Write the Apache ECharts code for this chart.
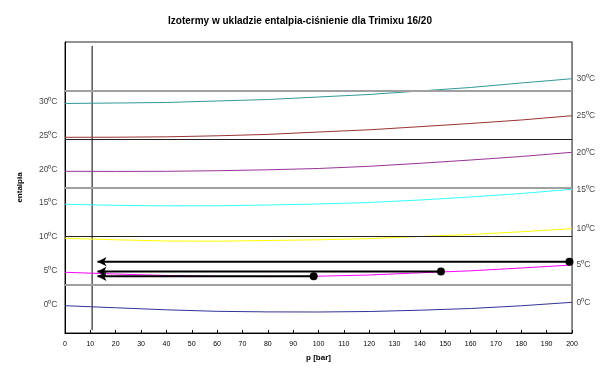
<!DOCTYPE html>
<html>
<head>
<meta charset="utf-8">
<script src="https://cdn.jsdelivr.net/npm/echarts@6/dist/echarts.min.js"></script>
<style>html,body{margin:0;padding:0;background:#fff}#c{width:600px;height:371px}</style>
</head>
<body>
<div id="c"></div>
<script>
// pressure points (bar)
const pressure = [0, 20, 40, 60, 80, 100, 120, 140, 160, 180, 200];
// isotherm enthalpy values (arbitrary enthalpy units, gridline = 1 unit)
const iso30 = [4.732, 4.742, 4.753, 4.784, 4.814, 4.866, 4.918, 4.990, 5.062, 5.155, 5.243];
const iso25 = [4.035, 4.037, 4.045, 4.066, 4.095, 4.144, 4.190, 4.254, 4.320, 4.392, 4.480];
const iso20 = [3.334, 3.332, 3.334, 3.346, 3.365, 3.392, 3.437, 3.499, 3.567, 3.639, 3.726];
const iso15 = [2.654, 2.633, 2.621, 2.623, 2.639, 2.660, 2.691, 2.742, 2.804, 2.876, 2.963];
const iso10 = [1.953, 1.922, 1.897, 1.893, 1.907, 1.922, 1.946, 1.990, 2.031, 2.087, 2.151];
const iso5  = [1.252, 1.216, 1.186, 1.169, 1.163, 1.171, 1.196, 1.241, 1.282, 1.340, 1.402];
const iso0  = [0.563, 0.520, 0.478, 0.447, 0.435, 0.433, 0.443, 0.470, 0.505, 0.561, 0.633];
const isoLabels = ['30⁰C', '25⁰C', '20⁰C', '15⁰C', '10⁰C', '5⁰C', '0⁰C'];
// filling processes: start pressure, enthalpy level, end pressure
const fillStartP = [199, 148.3, 98.1];
const fillLevel = [1.47, 1.268, 1.169];
const fillEndP = 12.8;
// vertical reference line (p, enthalpy from, enthalpy to)
const refP = 10.7;
const refRange = [0.06, 5.92];
// horizontal enthalpy levels
const levels = [1, 2, 3, 4, 5];
const xMin = 0, xMax = 200, xStep = 10;
const yMin = 0, yMax = 6;

const isoData = [iso30, iso25, iso20, iso15, iso10, iso5, iso0];
const isoColors = ['#339999', '#993333', '#993399', '#33ffff', '#ffff00', '#ff00ff', '#333399'];
const levelStyles = [
  {color: '#a0a0a0', width: 2},
  {color: '#222', width: 1}
];

const series = [];
series.push({
  type: 'line',
  data: [[refP, refRange[0]], [refP, refRange[1]]],
  symbol: 'none',
  lineStyle: {color: '#000', width: 1},
  silent: true,
  z: 1,
  markLine: {
    silent: true,
    symbol: 'none',
    label: {show: false},
    data: levels.map((v, i) => ({yAxis: v, lineStyle: Object.assign({type: 'solid'}, levelStyles[i % 2])}))
  }
});
const labelStyle = {color: '#111', fontSize: 8.5, fontFamily: 'Liberation Sans'};
isoData.forEach((arr, k) => {
  const n = arr.length;
  series.push({
    type: 'line',
    symbol: 'none',
    lineStyle: {color: isoColors[k], width: 1},
    z: 2,
    data: arr.map((v, i) => [pressure[i], v])
  });
  series.push({
    type: 'scatter',
    symbol: 'circle',
    symbolSize: 1,
    itemStyle: {color: 'rgba(0,0,0,0)'},
    silent: true,
    z: 3,
    data: [
      {value: [pressure[0], arr[0]], label: Object.assign({show: true, position: 'left', distance: 7, offset: [0, -1.5], formatter: isoLabels[k]}, labelStyle)},
      {value: [pressure[n - 1], arr[n - 1]], label: Object.assign({show: true, position: 'right', distance: 4, offset: [0, 0], formatter: isoLabels[k]}, labelStyle)}
    ]
  });
});
fillStartP.forEach((p, k) => {
  series.push({
    type: 'line',
    z: 5,
    lineStyle: {color: '#000', width: 2},
    itemStyle: {color: '#000'},
    showSymbol: true,
    data: [
      {value: [p, fillLevel[k]], symbol: 'circle', symbolSize: 8},
      {value: [fillEndP, fillLevel[k]], symbol: 'arrow', symbolSize: [7, 9], symbolRotate: 90}
    ]
  });
});

const chart = echarts.init(document.getElementById('c'), null, {renderer: 'canvas'});
chart.setOption({
  animation: false,
  backgroundColor: '#fff',
  textStyle: {fontFamily: 'Liberation Sans'},
  title: {
    text: 'Izotermy w ukladzie entalpia-ciśnienie dla Trimixu 16/20',
    left: 'center',
    top: 11,
    textStyle: {fontSize: 10, fontWeight: 'bold', color: '#000', fontFamily: 'Liberation Sans'}
  },
  grid: {left: 65, right: 28, top: 42, bottom: 38, show: true, borderColor: '#222', borderWidth: 1, backgroundColor: 'transparent'},
  xAxis: {
    type: 'value', min: xMin, max: xMax, interval: xStep,
    name: 'p [bar]', nameLocation: 'middle', nameGap: 21,
    nameTextStyle: {fontSize: 8, fontWeight: 'bold', color: '#000'},
    axisLine: {show: true, lineStyle: {color: '#000'}},
    axisTick: {show: true, inside: true, length: 3, lineStyle: {color: '#000'}},
    axisLabel: {fontSize: 7, color: '#000', margin: 8},
    splitLine: {show: false}
  },
  yAxis: [{
    type: 'value', min: yMin, max: yMax, interval: 1,
    name: 'entalpia', nameLocation: 'middle', nameGap: 41, nameRotate: 90,
    nameTextStyle: {fontSize: 8, fontWeight: 'bold', color: '#000'},
    axisLine: {show: true, lineStyle: {color: '#000'}},
    axisTick: {show: false},
    axisLabel: {show: false},
    splitLine: {show: false}
  }, {
    type: 'value', min: yMin, max: yMax, interval: 1, position: 'right',
    axisLine: {show: true, lineStyle: {color: '#808080'}},
    axisTick: {show: false},
    axisLabel: {show: false},
    splitLine: {show: false}
  }],
  series: series
});
</script>
</body>
</html>
